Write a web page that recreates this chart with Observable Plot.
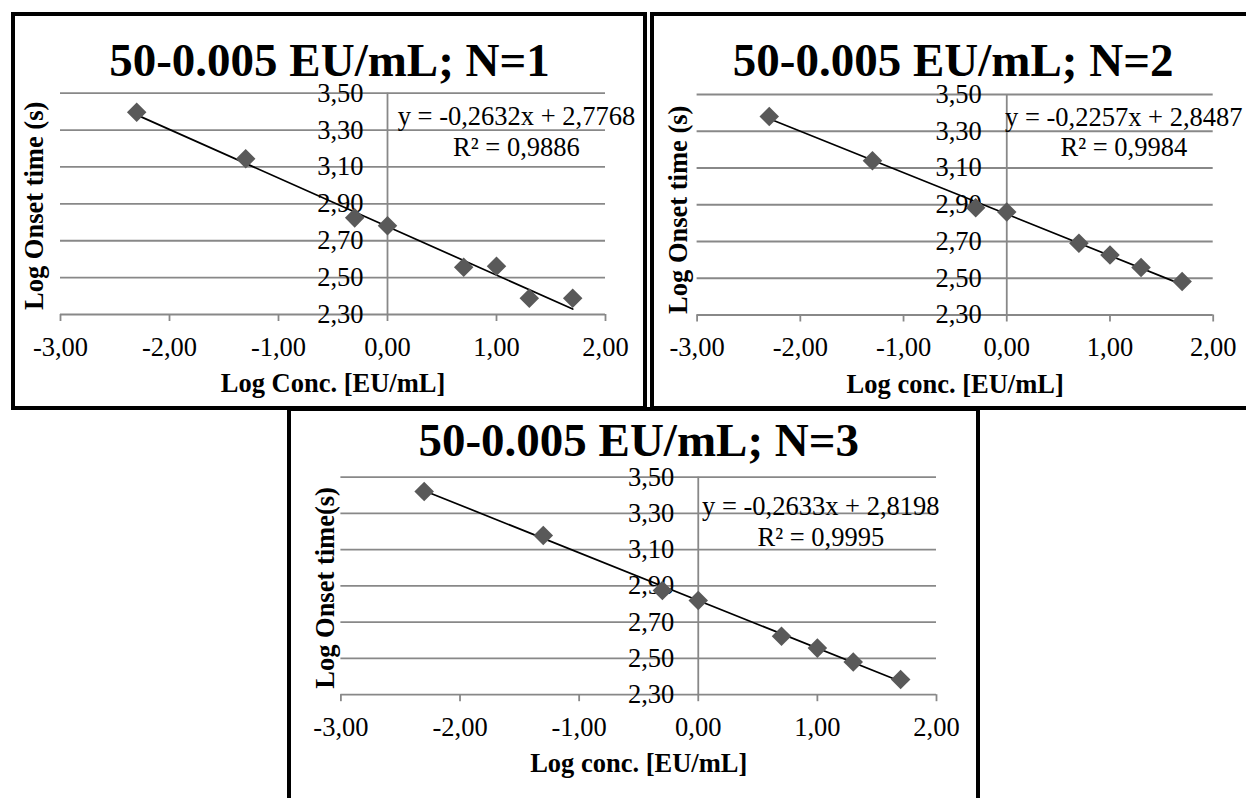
<!DOCTYPE html>
<html>
<head>
<meta charset="utf-8">
<script src="https://cdn.jsdelivr.net/npm/d3@7"></script>
<script src="https://cdn.jsdelivr.net/npm/@observablehq/plot@0.6"></script>
<style>
  html, body { margin: 0; padding: 0; background: white; overflow: hidden; }
  #wrap { position: relative; width: 1246px; height: 798px; overflow: hidden; background: white; }
  .slot { position: absolute; }
  .frame { position: absolute; box-sizing: border-box; border: 4px solid #000; z-index: 2; pointer-events: none; }
</style>
</head>
<body>
<div id="wrap"></div>
<script>
// ---- data ----
const logConc = [-2.301, -1.301, -0.301, 0, 0.699, 1, 1.301, 1.699];
const onsetN1 = [3.397, 3.144, 2.824, 2.781, 2.556, 2.562, 2.388, 2.388];
const onsetN2 = [3.380, 3.140, 2.884, 2.860, 2.691, 2.627, 2.558, 2.482];
const onsetN3 = [3.421, 3.178, 2.875, 2.820, 2.623, 2.557, 2.480, 2.384];
const slopes = [-0.2632, -0.2257, -0.2633];
const intercepts = [2.7768, 2.8487, 2.8198];
const equations = ["y = -0,2632x + 2,7768", "y = -0,2257x + 2,8487", "y = -0,2633x + 2,8198"];
const r2Labels = ["R² = 0,9886", "R² = 0,9984", "R² = 0,9995"];
const titles = ["50-0.005 EU/mL; N=1", "50-0.005 EU/mL; N=2", "50-0.005 EU/mL; N=3"];
const xLabels = ["Log Conc. [EU/mL]", "Log conc. [EU/mL]", "Log conc. [EU/mL]"];
const yLabels = ["Log Onset time (s)", "Log Onset time (s)", "Log Onset time(s)"];
const xTicks = [-3, -2, -1, 0, 1, 2];
const yTicks = [2.3, 2.5, 2.7, 2.9, 3.1, 3.3, 3.5];
const series = [onsetN1, onsetN2, onsetN3];

// ---- layout / style ----
const FONT = "'Liberation Serif', 'Times New Roman', serif";
const GRID = "#888888";
const MARK = "#595959";
const layouts = [
  {left: 11, top: 12, w: 636, h: 398, mL: 49, mR: 42, mT: 80.7, mB: 96, titleDy: -17.5, titleDx: -3.5,
   eqX: 1.183, eqY: 3.325, r2Y: 3.157, yLabDx: -26, yLabDy: 2, yTickDx: -24, border: {w: 636, h: 398}},
  {left: 650, top: 12, w: 600, h: 398, mL: 46.6, mR: 37.3, mT: 82, mB: 95.5, titleDy: -18.8, titleDx: -2,
   eqX: 1.134, eqY: 3.331, r2Y: 3.167, yLabDx: -19, yLabDy: 5, yTickDx: -25, border: {w: 600, h: 398}},
  {left: 287, top: 407, w: 693, h: 420, mL: 53.4, mR: 44, mT: 69.7, mB: 132.8, titleDy: -21.5, titleDx: 0,
   eqX: 1.029, eqY: 3.289, r2Y: 3.123, yLabDx: -15, yLabDy: 2, yTickDx: -24, border: {w: 693, h: 420}}
];

const fmt = d => d3.format(".2f")(d).replace(".", ",").replace("\u2212", "-");
const wrap = document.getElementById("wrap");

layouts.forEach((L, k) => {
  const pts = logConc.map((x, i) => ({x, y: series[k][i]}));
  const xmin = d3.min(logConc), xmax = d3.max(logConc);
  const fit = [xmin, xmax].map(x => ({x, y: slopes[k] * x + intercepts[k]}));

  const chart = Plot.plot({
    width: L.w, height: L.h,
    marginLeft: L.mL, marginRight: L.mR, marginTop: L.mT, marginBottom: L.mB,
    x: {domain: [-3, 2], axis: null, label: null},
    y: {domain: [2.3, 3.5], axis: null, label: null},
    style: {fontFamily: FONT, background: "transparent", overflow: "visible", color: "black"},
    marks: [
      Plot.ruleY(yTicks, {stroke: GRID, strokeWidth: 1.8}),
      Plot.ruleX([0], {stroke: GRID, strokeWidth: 1.8}),
      Plot.axisX(xTicks, {anchor: "bottom", tickSize: 7, tickPadding: 15.2, stroke: GRID, strokeWidth: 1.8,
        fill: "black", fontSize: 26.5, tickFormat: fmt, label: null}),
      Plot.text(yTicks, {x: 0, y: d => d, text: fmt, textAnchor: "end", dx: L.yTickDx,
        fontSize: 26.5, fill: "black", lineAnchor: "middle"}),
      Plot.line(fit, {x: "x", y: "y", stroke: "black", strokeWidth: 1.7}),
      Plot.dot(pts, {x: "x", y: "y", symbol: "diamond2", r: 8.8, fill: MARK, stroke: "none"}),
      Plot.text([equations[k]], {x: L.eqX, y: L.eqY, text: d => d, fontSize: 26.5, fill: "black",
        lineAnchor: "bottom", textAnchor: "middle"}),
      Plot.text([r2Labels[k]], {x: L.eqX, y: L.r2Y, text: d => d, fontSize: 26.5, fill: "black",
        lineAnchor: "bottom", textAnchor: "middle"}),
      Plot.text([titles[k]], {frameAnchor: "top", text: d => d, dy: L.titleDy, dx: L.titleDx,
        fontSize: 47, fontWeight: "bold", fill: "black", lineAnchor: "bottom"}),
      Plot.text([xLabels[k]], {frameAnchor: "bottom", text: d => d, dy: 77.7,
        fontSize: 26.5, fontWeight: "bold", fill: "black", lineAnchor: "bottom"}),
      Plot.text([yLabels[k]], {frameAnchor: "left", text: d => d, dx: L.yLabDx, dy: L.yLabDy, rotate: -90,
        fontSize: 26.5, fontWeight: "bold", fill: "black", lineAnchor: "middle", textAnchor: "middle"})
    ]
  });

  const slot = document.createElement("div");
  slot.className = "slot";
  slot.style.left = L.left + "px";
  slot.style.top = L.top + "px";
  slot.style.width = L.w + "px";
  slot.style.height = L.h + "px";
  slot.appendChild(chart);
  wrap.appendChild(slot);

  const fr = document.createElement("div");
  fr.className = "frame";
  fr.style.left = L.left + "px";
  fr.style.top = L.top + "px";
  fr.style.width = L.border.w + "px";
  fr.style.height = L.border.h + "px";
  wrap.appendChild(fr);
});
</script>
</body>
</html>
